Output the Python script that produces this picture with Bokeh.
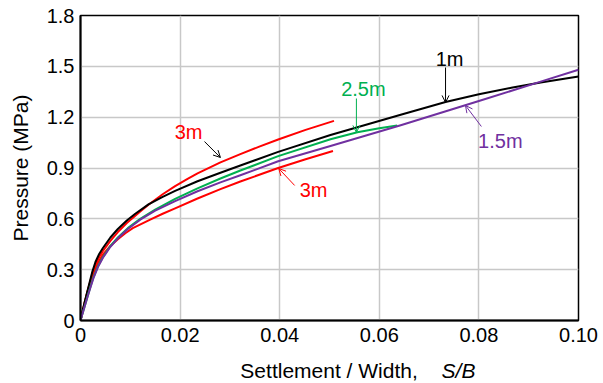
from bokeh.plotting import figure
from bokeh.layouts import column
from bokeh.models import Range1d, FixedTicker, Label, Arrow, OpenHead
from bokeh.core.properties import value
from bokeh.embed import file_html
from bokeh.resources import INLINE

# ---- data ----
s_1m = [0, 0.0004, 0.0008, 0.0012, 0.0016, 0.002, 0.0024, 0.003, 0.00375, 0.0045, 0.006,
        0.0075, 0.0093, 0.011, 0.01365, 0.0165, 0.019, 0.0235, 0.0281, 0.0321, 0.0397,
        0.0502, 0.0643, 0.0733, 0.08, 0.0865, 0.0924, 0.1]
p_1m = [0, 0.055, 0.105, 0.152, 0.197, 0.245, 0.29, 0.345, 0.393, 0.428, 0.49,
        0.54, 0.59, 0.63, 0.685, 0.73, 0.765, 0.822, 0.872, 0.915, 0.995,
        1.095, 1.214, 1.29, 1.335, 1.373, 1.405, 1.44]

s_3m_up = [0, 0.0004, 0.0008, 0.0012, 0.0016, 0.002, 0.0024, 0.003, 0.00375, 0.0045, 0.006,
           0.0075, 0.0093, 0.011, 0.012, 0.01365, 0.0165, 0.019, 0.0215, 0.0235, 0.0281,
           0.0321, 0.0359, 0.0397, 0.0452, 0.0509]
p_3m_up = [0, 0.05, 0.1, 0.148, 0.192, 0.235, 0.278, 0.33, 0.375, 0.41, 0.47,
           0.522, 0.575, 0.618, 0.643, 0.683, 0.745, 0.793, 0.836, 0.868, 0.933,
           0.982, 1.026, 1.068, 1.125, 1.178]

s_3m_lo = [0, 0.0004, 0.0008, 0.0012, 0.0016, 0.002, 0.0026, 0.0035, 0.0044, 0.006,
           0.0075, 0.009, 0.0105, 0.0141, 0.0165, 0.019, 0.0235, 0.0281, 0.0321,
           0.0397, 0.0452, 0.0507]
p_3m_lo = [0, 0.05, 0.1, 0.145, 0.19, 0.23, 0.28, 0.34, 0.385, 0.44,
           0.48, 0.515, 0.545, 0.597, 0.63, 0.662, 0.72, 0.775, 0.82,
           0.9, 0.952, 1.0]

s_25m = [0, 0.0004, 0.0008, 0.0012, 0.0016, 0.002, 0.0026, 0.0035, 0.0045, 0.006,
         0.0075, 0.0095, 0.012, 0.015, 0.019, 0.0235, 0.0281, 0.0321, 0.0397,
         0.0502, 0.0556, 0.06, 0.0636]
p_25m = [0, 0.04, 0.08, 0.12, 0.16, 0.2, 0.255, 0.32, 0.375, 0.44,
         0.49, 0.545, 0.6, 0.655, 0.718, 0.78, 0.838, 0.885, 0.97,
         1.07, 1.111, 1.135, 1.151]

s_15m = [0, 0.0004, 0.0008, 0.0012, 0.0016, 0.002, 0.0026, 0.0035, 0.0045, 0.006,
         0.0075, 0.0095, 0.012, 0.015, 0.019, 0.0235, 0.0281, 0.0321, 0.0397,
         0.0502, 0.0643, 0.08, 0.0924, 0.1]
p_15m = [0, 0.04, 0.08, 0.12, 0.158, 0.195, 0.25, 0.315, 0.37, 0.435,
         0.485, 0.54, 0.595, 0.648, 0.705, 0.763, 0.815, 0.857, 0.94,
         1.03, 1.152, 1.295, 1.41, 1.48]

x_ticks = [0, 0.02, 0.04, 0.06, 0.08, 0.10]
x_tick_labels = ["0", "0.02", "0.04", "0.06", "0.08", "0.10"]
y_ticks = [0, 0.3, 0.6, 0.9, 1.2, 1.5, 1.8]
y_tick_labels = ["0", "0.3", "0.6", "0.9", "1.2", "1.5", "1.8"]

x_title = "Settlement / Width,"
x_title_italic = "S/B"
y_title = "Pressure (MPa)"

RED = "#ff0000"
BLACK = "#000000"
GREEN = "#00b050"
PURPLE = "#7030a0"
FONT = "Liberation Sans"

p = figure(width=603, height=353, output_backend="svg", toolbar_location=None,
           x_range=Range1d(0, 0.1), y_range=Range1d(0, 1.8),
           min_border_left=80, min_border_right=25, min_border_top=15, min_border_bottom=33)
p.frame_width = 498
p.frame_height = 305

p.outline_line_color = "black"
p.outline_line_width = 1.5
p.background_fill_color = "white"
p.border_fill_color = "white"

for ax in (p.xaxis, p.yaxis):
    ax.major_tick_in = 0
    ax.major_tick_out = 0
    ax.minor_tick_in = 0
    ax.minor_tick_out = 0
    ax.axis_line_width = 2
    ax.axis_line_color = "black"
    ax.major_label_text_font = FONT
    ax.major_label_text_font_size = "20px"
    ax.major_label_text_color = "black"

p.xaxis.ticker = FixedTicker(ticks=x_ticks)
p.xaxis.major_label_overrides = {t: l for t, l in zip(x_ticks, x_tick_labels)}
p.yaxis.ticker = FixedTicker(ticks=y_ticks)
p.yaxis.major_label_overrides = {t: l for t, l in zip(y_ticks, y_tick_labels)}
p.xaxis.major_label_standoff = 7
p.yaxis.major_label_standoff = 6

p.yaxis.axis_label = y_title
p.yaxis.axis_label_text_font = FONT
p.yaxis.axis_label_text_font_size = "21px"
p.yaxis.axis_label_text_font_style = "normal"
p.yaxis.axis_label_text_color = "black"
p.yaxis.axis_label_standoff = 12

p.xgrid.grid_line_color = "#c8c8c8"
p.ygrid.grid_line_color = "#c8c8c8"
p.xgrid.grid_line_width = 1.5
p.ygrid.grid_line_width = 1.5

lw = 2
p.line(s_3m_up, p_3m_up, line_color=RED, line_width=lw, line_join="round")
p.line(s_3m_lo, p_3m_lo, line_color=RED, line_width=lw, line_join="round")
p.line(s_1m, p_1m, line_color=BLACK, line_width=lw, line_join="round")
p.line(s_25m, p_25m, line_color=GREEN, line_width=lw, line_join="round")
p.line(s_15m, p_15m, line_color=PURPLE, line_width=lw, line_join="round")

# curve labels
labels = [
    ("1m", 0.0741, 1.546, BLACK),
    ("2.5m", 0.0568, 1.369, GREEN),
    ("1.5m", 0.0843, 1.062, PURPLE),
    ("3m", 0.0217, 1.115, RED),
    ("3m", 0.0468, 0.773, RED),
]
for t, lx, ly, c in labels:
    p.add_layout(Label(x=lx, y=ly, text=t, text_font=FONT, text_font_size="20px",
                       text_color=c, text_align="center", text_baseline="middle"))

arrows = [
    (0.0733, 1.493, 0.0733, 1.287, BLACK),
    (0.0554, 1.310, 0.0554, 1.110, GREEN),
    (0.0805, 1.145, 0.0773, 1.269, PURPLE),
    (0.0249, 1.056, 0.0281, 0.962, BLACK),
    (0.0430, 0.797, 0.0398, 0.897, RED),
]
for x0, y0, x1, y1, c in arrows:
    p.add_layout(Arrow(x_start=x0, y_start=y0, x_end=x1, y_end=y1,
                       line_color=c, line_width=1,
                       end=OpenHead(size=7, line_color=c, line_width=1)))

# x-axis title strip (allows italic S/B)
p2 = figure(width=603, height=30, output_backend="svg", toolbar_location=None,
            x_range=Range1d(0, 0.1), y_range=Range1d(0, 1),
            min_border_left=80, min_border_right=25, min_border_top=0, min_border_bottom=0)
p2.frame_width = 498
p2.frame_height = 30
p2.axis.visible = False
p2.grid.visible = False
p2.outline_line_color = None
p2.background_fill_color = "white"
p2.border_fill_color = "white"
p2.text(x=[0.0321], y=[0.43], text=[x_title], text_font=value(FONT),
        text_font_size="21px", text_color="black", text_baseline="middle", text_align="left")
p2.text(x=[0.0725], y=[0.43], text=[x_title_italic], text_font=value(FONT),
        text_font_size="21px", text_font_style="italic", text_color="black",
        text_baseline="middle", text_align="left")

layout = column(p, p2, spacing=0)
open("out.html", "w").write(file_html(layout, INLINE))
